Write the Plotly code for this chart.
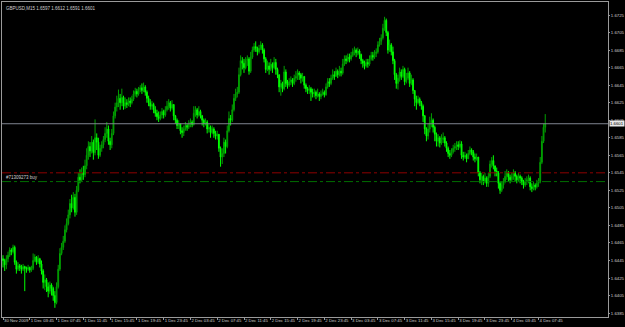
import plotly.graph_objects as go

BASE = 1.6385  # price of pip offset 0
PIP = 0.0001

open_first = 62
close_pips = [
    60,55,62,66,72,70,75,58,50,54,
    52,50,53,51,50,52,49,51,60,64,
    58,62,56,48,35,38,30,25,32,28,
    20,12,30,50,68,75,82,95,102,112,
    125,120,132,115,140,155,152,160,158,168,
    180,190,185,195,183,200,195,180,188,192,
    198,205,210,196,192,205,225,235,240,245,
    240,246,236,240,238,242,240,244,250,253,
    250,255,257,254,258,252,245,240,236,238,
    232,228,224,222,226,230,226,232,236,240,
    234,238,225,220,214,216,208,206,210,214,
    212,216,218,215,228,232,226,230,225,220,
    216,218,210,212,206,210,205,202,204,188,
    178,182,195,190,208,222,220,232,245,250,
    252,272,288,285,280,288,290,276,292,300,
    304,302,298,302,306,300,290,278,282,278,
    284,280,286,278,272,258,262,256,275,262,
    260,264,266,262,268,270,274,272,268,270,
    260,256,254,256,252,250,252,248,250,247,
    250,252,249,258,264,262,268,272,270,276,
    272,276,274,284,290,288,292,290,294,298,
    300,297,299,295,288,285,282,286,284,290,
    294,292,296,298,306,310,314,325,334,320,
    300,306,298,288,272,262,268,275,270,278,
    264,268,274,262,266,254,244,240,244,240,
    236,225,210,202,210,216,220,212,204,196,
    200,194,198,200,194,188,182,180,184,188,
    190,192,190,193,180,178,180,176,182,186,
    184,178,176,178,160,152,156,150,154,148,
    156,170,174,168,162,160,148,140,146,150,
    156,160,155,152,156,160,156,152,156,154,
    150,146,150,152,154,144,142,146,144,148,
    150,172,196,212,216,
]
high_pips = [
    66,62,66,70,75,74,78,77,60,58,
    56,55,56,54,53,55,53,54,68,67,
    65,66,63,60,50,44,40,35,36,34,
    30,25,35,55,74,80,88,100,108,118,
    130,135,138,136,145,160,164,166,168,175,
    188,196,195,202,198,221,205,200,192,196,
    202,212,218,214,200,210,230,240,248,255,
    250,256,248,246,244,246,246,248,254,257,
    256,258,260,262,263,260,254,248,244,242,
    240,236,232,230,230,234,232,236,242,244,
    242,243,238,226,222,220,216,212,214,218,
    216,220,222,220,236,236,234,236,232,226,
    222,222,220,216,214,214,212,208,208,204,
    190,188,200,198,214,230,226,238,250,256,
    258,280,294,292,290,292,294,292,298,304,
    308,310,304,306,310,308,302,292,288,286,
    290,286,292,290,280,272,266,264,282,278,
    266,268,270,268,272,276,278,276,274,274,
    270,262,258,260,258,256,256,254,256,252,
    254,256,254,262,268,268,272,278,276,280,
    278,282,280,290,294,294,296,296,298,302,
    304,302,303,301,296,290,288,290,290,294,
    298,298,300,302,310,314,318,330,338,336,
    322,312,308,304,290,274,272,280,278,282,
    280,274,280,276,272,268,254,248,248,246,
    242,238,226,212,216,224,228,222,214,206,
    204,202,204,206,202,196,190,186,188,192,
    194,196,196,197,196,184,184,182,186,190,
    188,186,182,182,178,162,160,158,160,156,
    160,174,178,180,168,166,162,150,150,154,
    162,164,162,158,160,164,162,158,160,158,
    156,152,154,156,158,156,148,150,148,152,
    154,178,202,216,227,
]
low_pips = [
    52,48,50,58,64,66,68,55,45,48,
    48,45,48,25,46,48,46,47,49,58,
    55,56,52,44,28,26,24,18,22,20,
    14,6,10,28,48,66,72,80,92,100,
    108,115,118,110,112,138,148,150,152,155,
    164,175,178,182,175,180,186,176,178,184,
    188,195,200,192,186,188,203,222,230,235,
    232,236,232,233,234,236,235,238,242,247,
    246,248,252,250,252,248,240,236,232,232,
    228,224,220,218,220,222,222,224,230,232,
    230,232,220,216,210,210,204,200,202,208,
    208,210,212,212,214,224,222,224,222,214,
    212,214,205,206,200,204,200,198,198,184,
    167,170,178,182,188,206,214,218,230,242,
    246,250,270,278,274,278,282,272,274,290,
    298,298,294,296,300,296,286,274,276,272,
    276,274,278,272,268,252,248,252,254,258,
    256,258,260,258,260,264,266,266,262,264,
    256,252,250,250,242,246,246,244,246,242,
    244,248,246,248,256,258,260,266,266,270,
    268,270,270,272,282,284,286,286,288,292,
    294,292,294,290,284,280,278,280,280,282,
    288,288,290,292,296,304,306,312,322,316,
    296,298,294,284,266,256,255,264,266,268,
    260,262,266,258,260,250,236,232,238,236,
    232,218,204,196,198,206,212,206,196,190,
    190,189,192,194,190,184,178,176,178,182,
    184,186,186,188,176,174,176,172,176,180,
    180,174,172,174,156,148,146,146,148,144,
    144,154,166,164,156,156,142,136,138,142,
    148,152,150,148,150,152,150,148,150,148,
    146,142,144,146,148,140,138,140,140,142,
    144,148,170,194,206,
]

tick_bars = list(range(0, 321, 16))
tick_labels = [
    "30 Nov 2009", "1 Dec 03:45", "1 Dec 07:45", "1 Dec 11:45", "1 Dec 15:45",
    "1 Dec 19:45", "1 Dec 23:45", "2 Dec 03:45", "2 Dec 07:45", "2 Dec 11:45",
    "2 Dec 15:45", "2 Dec 19:45", "2 Dec 23:45", "3 Dec 03:45", "3 Dec 07:45",
    "3 Dec 11:45", "3 Dec 15:45", "3 Dec 19:45", "3 Dec 23:45", "4 Dec 03:45",
    "4 Dec 07:45",
]

symbol = "GBPUSD,M15"
stop_level = 1.6545
order_level = 1.6535
order_label = "#71309273 buy"

closes = [BASE + v * PIP for v in close_pips]
highs = [BASE + v * PIP for v in high_pips]
lows = [BASE + v * PIP for v in low_pips]
opens = [BASE + open_first * PIP] + closes[:-1]
bars = list(range(len(closes)))
bid = closes[-1]

FONT = "Liberation Sans"

fig = go.Figure()
fig.add_trace(go.Candlestick(
    x=bars, open=opens, high=highs, low=lows, close=closes,
    increasing=dict(line=dict(color="#00a000", width=1), fillcolor="#008200"),
    decreasing=dict(line=dict(color="#00ff00", width=1), fillcolor="#00ff00"),
    whiskerwidth=0, showlegend=False, hoverinfo="skip",
))

fig.add_hline(y=bid, line=dict(color="#7f8590", width=1))
fig.add_hline(y=stop_level, line=dict(color="#8c0000", width=1, dash="dashdot"))
fig.add_hline(y=order_level, line=dict(color="#006e00", width=1, dash="dashdot"))

fig.add_annotation(xref="paper", yref="y", x=0.003, y=order_level, text=order_label,
                   showarrow=False, xanchor="left", yanchor="bottom",
                   font=dict(size=4.5, color="#d0d0d0", family=FONT))
fig.add_annotation(xref="paper", yref="paper", x=0.003, y=0.995,
                   text=f"{symbol} {opens[-1]:.4f} {highs[-1]:.4f} {lows[-1]:.4f} {closes[-1]:.4f}",
                   showarrow=False, xanchor="left", yanchor="top",
                   font=dict(size=4.5, color="#d0d0d0", family=FONT))
fig.add_annotation(xref="paper", yref="y", x=1.0, y=bid, text=f"{bid:.4f}",
                   showarrow=False, xanchor="left", yanchor="middle", xshift=1,
                   bgcolor="#e8e8e8", borderpad=0,
                   font=dict(size=4.3, color="#000000", family=FONT))

fig.update_layout(
    width=625, height=327,
    margin=dict(l=2, r=17, t=2, b=10),
    paper_bgcolor="#000000", plot_bgcolor="#000000",
    font=dict(family=FONT, size=4.5, color="#d0d0d0"),
    showlegend=False,
)
fig.update_xaxes(
    range=[-0.6, 361.5], rangeslider_visible=False, showgrid=False, zeroline=False,
    tickmode="array", tickvals=tick_bars, ticktext=tick_labels, tickangle=0,
    ticks="outside", ticklen=2, tickcolor="#9a9a9a", ticklabelposition="outside right",
    ticklabelstandoff=-1,
    showline=True, linecolor="#9a9a9a", linewidth=1, mirror=True,
    tickfont=dict(size=4.3, color="#d0d0d0", family=FONT), automargin=False,
)
fig.update_yaxes(
    range=[1.63805, 1.67399], side="right", showgrid=False, zeroline=False,
    tick0=1.6385, dtick=0.0020, tickformat=".4f",
    ticks="outside", ticklen=1, tickcolor="#9a9a9a",
    showline=True, linecolor="#9a9a9a", linewidth=1, mirror=True,
    tickfont=dict(size=4.3, color="#d0d0d0", family=FONT), automargin=False,
)

fig.write_html("out.html")
